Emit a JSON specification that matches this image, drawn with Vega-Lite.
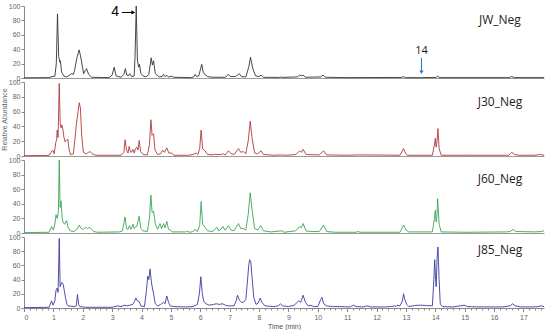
{
  "$schema": "https://vega.github.io/schema/vega-lite/v6.json",
  "padding": {"left": 0, "top": 2, "right": 4, "bottom": 0},
  "spacing": 4,
  "bounds": "flush",
  "config": {
    "view": {"stroke": null},
    "axis": {"labelFontSize": 7, "labelColor": "#666", "tickColor": "#888", "domainColor": "#888", "tickSize": 3, "grid": false, "labelFont": "Liberation Sans", "titleFont": "Liberation Sans", "labelPadding": 1},
    "text": {"font": "Open Sans"}
  },
  "datasets": {
    "JW": [
      {"t":0,"v":0.3},{"t":0.85,"v":0.5},{"t":0.95,"v":2},{"t":1.05,"v":2.5},{"t":1.1,"v":20},{"t":1.14,"v":89},{"t":1.18,"v":30},{"t":1.22,"v":22},{"t":1.24,"v":24},{"t":1.28,"v":8},{"t":1.35,"v":3},{"t":1.45,"v":1.5},{"t":1.55,"v":4},{"t":1.62,"v":6},{"t":1.68,"v":5},{"t":1.72,"v":10},{"t":1.8,"v":28},{"t":1.88,"v":39},{"t":1.95,"v":25},{"t":2.03,"v":6},{"t":2.08,"v":10},{"t":2.13,"v":13},{"t":2.2,"v":5},{"t":2.3,"v":1},{"t":2.9,"v":0.5},{"t":3.0,"v":4},{"t":3.07,"v":15},{"t":3.13,"v":3},{"t":3.3,"v":1},{"t":3.4,"v":5},{"t":3.45,"v":13},{"t":3.5,"v":4},{"t":3.55,"v":3},{"t":3.6,"v":6},{"t":3.66,"v":2},{"t":3.75,"v":3},{"t":3.78,"v":30},{"t":3.82,"v":100},{"t":3.86,"v":25},{"t":3.9,"v":15},{"t":3.93,"v":19},{"t":3.98,"v":6},{"t":4.05,"v":3},{"t":4.15,"v":1.5},{"t":4.25,"v":5},{"t":4.33,"v":28},{"t":4.37,"v":18},{"t":4.41,"v":24},{"t":4.47,"v":6},{"t":4.6,"v":1.5},{"t":4.7,"v":2},{"t":4.75,"v":5},{"t":4.8,"v":2},{"t":4.86,"v":3.5},{"t":4.92,"v":1.5},{"t":5.03,"v":2.5},{"t":5.1,"v":1},{"t":5.7,"v":0.5},{"t":5.79,"v":2},{"t":5.83,"v":5},{"t":5.87,"v":2},{"t":5.95,"v":3},{"t":6.05,"v":19},{"t":6.1,"v":8},{"t":6.15,"v":5},{"t":6.25,"v":2},{"t":6.4,"v":1},{"t":6.85,"v":1},{"t":6.96,"v":5},{"t":7.02,"v":2},{"t":7.2,"v":2},{"t":7.33,"v":6},{"t":7.4,"v":2},{"t":7.55,"v":1.5},{"t":7.65,"v":15},{"t":7.71,"v":29},{"t":7.78,"v":14},{"t":7.88,"v":3},{"t":8.0,"v":2},{"t":8.07,"v":4},{"t":8.15,"v":1},{"t":8.7,"v":0.8},{"t":8.75,"v":1.5},{"t":8.8,"v":0.8},{"t":9.3,"v":1.5},{"t":9.38,"v":4},{"t":9.44,"v":3},{"t":9.5,"v":4},{"t":9.58,"v":1},{"t":10.1,"v":1.5},{"t":10.18,"v":4},{"t":10.26,"v":1},{"t":11,"v":0.5},{"t":12.85,"v":0.8},{"t":12.92,"v":2},{"t":12.99,"v":0.5},{"t":13.5,"v":0.5},{"t":14.03,"v":0.8},{"t":14.08,"v":3},{"t":14.13,"v":0.5},{"t":16.5,"v":0.5},{"t":16.6,"v":2},{"t":16.7,"v":0.5},{"t":17.7,"v":0.5}
    ],
    "J30": [
      {"t":0,"v":0.5},{"t":0.85,"v":0.8},{"t":0.92,"v":5},{"t":0.98,"v":8},{"t":1.03,"v":3},{"t":1.08,"v":18},{"t":1.11,"v":22},{"t":1.13,"v":35},{"t":1.16,"v":25},{"t":1.2,"v":98},{"t":1.23,"v":45},{"t":1.26,"v":38},{"t":1.29,"v":42},{"t":1.32,"v":37},{"t":1.36,"v":25},{"t":1.4,"v":19},{"t":1.44,"v":21},{"t":1.49,"v":23},{"t":1.53,"v":10},{"t":1.58,"v":2},{"t":1.68,"v":3},{"t":1.74,"v":25},{"t":1.78,"v":42},{"t":1.84,"v":60},{"t":1.88,"v":72},{"t":1.92,"v":65},{"t":1.96,"v":30},{"t":2.02,"v":5},{"t":2.12,"v":3},{"t":2.2,"v":5},{"t":2.25,"v":6},{"t":2.32,"v":3},{"t":2.45,"v":1},{"t":3.3,"v":1},{"t":3.4,"v":5},{"t":3.44,"v":22},{"t":3.49,"v":8},{"t":3.54,"v":4},{"t":3.58,"v":13},{"t":3.63,"v":5},{"t":3.68,"v":6},{"t":3.71,"v":9},{"t":3.75,"v":4},{"t":3.8,"v":10},{"t":3.84,"v":12},{"t":3.88,"v":8},{"t":3.92,"v":21},{"t":3.97,"v":6},{"t":4.05,"v":2},{"t":4.2,"v":1.5},{"t":4.27,"v":15},{"t":4.32,"v":49},{"t":4.36,"v":28},{"t":4.41,"v":30},{"t":4.46,"v":8},{"t":4.55,"v":2},{"t":4.65,"v":3},{"t":4.72,"v":8},{"t":4.78,"v":5},{"t":4.86,"v":11},{"t":4.93,"v":4},{"t":5.03,"v":4},{"t":5.1,"v":1},{"t":5.6,"v":1},{"t":5.75,"v":2},{"t":5.86,"v":4},{"t":5.92,"v":2},{"t":5.98,"v":10},{"t":6.03,"v":35},{"t":6.08,"v":10},{"t":6.16,"v":7},{"t":6.25,"v":2},{"t":6.45,"v":1.5},{"t":6.5,"v":2.5},{"t":6.56,"v":2},{"t":6.7,"v":2},{"t":6.77,"v":3},{"t":6.85,"v":1.5},{"t":6.96,"v":7},{"t":7.05,"v":3},{"t":7.15,"v":2},{"t":7.3,"v":10},{"t":7.38,"v":5},{"t":7.47,"v":6},{"t":7.55,"v":3},{"t":7.63,"v":20},{"t":7.7,"v":47},{"t":7.76,"v":25},{"t":7.85,"v":4},{"t":7.95,"v":3},{"t":8.07,"v":7},{"t":8.15,"v":2},{"t":8.5,"v":1},{"t":8.73,"v":1.5},{"t":8.9,"v":1},{"t":9.25,"v":2},{"t":9.38,"v":7},{"t":9.44,"v":5},{"t":9.5,"v":9},{"t":9.6,"v":2},{"t":10.05,"v":1.5},{"t":10.2,"v":7},{"t":10.3,"v":1.5},{"t":11,"v":1},{"t":11.4,"v":1.5},{"t":12.8,"v":1},{"t":12.92,"v":10},{"t":12.98,"v":4},{"t":13.05,"v":1},{"t":13.9,"v":1},{"t":13.97,"v":15},{"t":14.0,"v":24},{"t":14.03,"v":12},{"t":14.06,"v":20},{"t":14.09,"v":37},{"t":14.13,"v":10},{"t":14.2,"v":1},{"t":15,"v":1},{"t":16.5,"v":1},{"t":16.6,"v":5},{"t":16.7,"v":2},{"t":16.85,"v":1},{"t":17.4,"v":1},{"t":17.55,"v":2},{"t":17.7,"v":1}
    ],
    "J60": [
      {"t":0,"v":0.5},{"t":0.85,"v":1},{"t":0.94,"v":9},{"t":1.0,"v":4},{"t":1.05,"v":12},{"t":1.09,"v":25},{"t":1.13,"v":20},{"t":1.17,"v":30},{"t":1.2,"v":100},{"t":1.23,"v":35},{"t":1.26,"v":44},{"t":1.3,"v":20},{"t":1.33,"v":15},{"t":1.38,"v":12},{"t":1.45,"v":17},{"t":1.5,"v":8},{"t":1.57,"v":3},{"t":1.7,"v":2},{"t":1.8,"v":5},{"t":1.88,"v":11},{"t":1.95,"v":6},{"t":2.02,"v":5},{"t":2.07,"v":7},{"t":2.11,"v":8},{"t":2.16,"v":6},{"t":2.23,"v":8},{"t":2.3,"v":5},{"t":2.38,"v":2},{"t":2.5,"v":1},{"t":3.25,"v":1.5},{"t":3.35,"v":3},{"t":3.44,"v":22},{"t":3.49,"v":6},{"t":3.54,"v":5},{"t":3.59,"v":10},{"t":3.64,"v":5},{"t":3.71,"v":12},{"t":3.75,"v":6},{"t":3.78,"v":8},{"t":3.84,"v":9},{"t":3.92,"v":23},{"t":3.98,"v":6},{"t":4.05,"v":3},{"t":4.2,"v":2},{"t":4.27,"v":20},{"t":4.32,"v":52},{"t":4.36,"v":28},{"t":4.41,"v":30},{"t":4.47,"v":13},{"t":4.55,"v":5},{"t":4.63,"v":13},{"t":4.68,"v":6},{"t":4.75,"v":13},{"t":4.8,"v":7},{"t":4.86,"v":16},{"t":4.92,"v":5},{"t":4.98,"v":4},{"t":5.05,"v":1.5},{"t":5.5,"v":1.5},{"t":5.54,"v":2.5},{"t":5.65,"v":1},{"t":5.75,"v":2},{"t":5.83,"v":5},{"t":5.9,"v":2},{"t":5.98,"v":10},{"t":6.03,"v":43},{"t":6.08,"v":12},{"t":6.16,"v":8},{"t":6.25,"v":3},{"t":6.4,"v":2},{"t":6.48,"v":4},{"t":6.56,"v":8},{"t":6.63,"v":3},{"t":6.7,"v":5},{"t":6.77,"v":9},{"t":6.84,"v":4},{"t":6.96,"v":10},{"t":7.05,"v":4},{"t":7.15,"v":3},{"t":7.3,"v":13},{"t":7.38,"v":6},{"t":7.47,"v":6},{"t":7.55,"v":4},{"t":7.63,"v":25},{"t":7.7,"v":55},{"t":7.77,"v":30},{"t":7.85,"v":6},{"t":7.95,"v":4},{"t":8.06,"v":10},{"t":8.15,"v":3},{"t":8.4,"v":1.5},{"t":8.78,"v":3},{"t":8.85,"v":1},{"t":9.25,"v":3},{"t":9.38,"v":9},{"t":9.44,"v":7},{"t":9.5,"v":13},{"t":9.6,"v":3},{"t":9.75,"v":2},{"t":10.05,"v":2},{"t":10.2,"v":11},{"t":10.3,"v":2},{"t":10.6,"v":1},{"t":11.3,"v":1},{"t":11.36,"v":2},{"t":11.45,"v":1},{"t":11.8,"v":1},{"t":12.8,"v":1},{"t":12.92,"v":11},{"t":13.0,"v":4},{"t":13.1,"v":1.5},{"t":13.9,"v":1.5},{"t":13.97,"v":20},{"t":14.0,"v":31},{"t":14.03,"v":15},{"t":14.06,"v":25},{"t":14.08,"v":47},{"t":14.13,"v":12},{"t":14.2,"v":1.5},{"t":15,"v":1},{"t":16.4,"v":1.5},{"t":16.55,"v":2},{"t":16.65,"v":5},{"t":16.75,"v":2},{"t":17.4,"v":1.5},{"t":17.6,"v":2},{"t":17.7,"v":3}
    ],
    "J85": [
      {"t":0,"v":0.5},{"t":0.85,"v":1},{"t":0.94,"v":10},{"t":0.99,"v":4},{"t":1.05,"v":10},{"t":1.09,"v":25},{"t":1.13,"v":28},{"t":1.16,"v":22},{"t":1.2,"v":98},{"t":1.23,"v":30},{"t":1.28,"v":36},{"t":1.33,"v":34},{"t":1.37,"v":25},{"t":1.41,"v":15},{"t":1.46,"v":5},{"t":1.5,"v":3},{"t":1.7,"v":2},{"t":1.78,"v":3},{"t":1.82,"v":19},{"t":1.86,"v":5},{"t":1.9,"v":2},{"t":2.1,"v":1},{"t":3.0,"v":1},{"t":3.2,"v":3},{"t":3.3,"v":2},{"t":3.43,"v":4},{"t":3.5,"v":3},{"t":3.6,"v":4},{"t":3.7,"v":5},{"t":3.76,"v":9},{"t":3.81,"v":14},{"t":3.86,"v":10},{"t":3.92,"v":9},{"t":3.98,"v":3},{"t":4.1,"v":2},{"t":4.17,"v":25},{"t":4.21,"v":45},{"t":4.25,"v":40},{"t":4.29,"v":55},{"t":4.34,"v":35},{"t":4.41,"v":20},{"t":4.47,"v":6},{"t":4.55,"v":3},{"t":4.65,"v":5},{"t":4.75,"v":8},{"t":4.8,"v":6},{"t":4.86,"v":17},{"t":4.92,"v":8},{"t":4.98,"v":3},{"t":5.1,"v":2},{"t":5.5,"v":1.5},{"t":5.75,"v":2},{"t":5.9,"v":5},{"t":5.97,"v":20},{"t":6.02,"v":44},{"t":6.07,"v":20},{"t":6.12,"v":9},{"t":6.2,"v":6},{"t":6.3,"v":4},{"t":6.45,"v":5},{"t":6.55,"v":6},{"t":6.65,"v":5},{"t":6.75,"v":6},{"t":6.85,"v":4},{"t":6.95,"v":3},{"t":7.05,"v":3},{"t":7.15,"v":3},{"t":7.22,"v":10},{"t":7.27,"v":18},{"t":7.33,"v":11},{"t":7.4,"v":8},{"t":7.47,"v":8},{"t":7.55,"v":12},{"t":7.6,"v":35},{"t":7.65,"v":60},{"t":7.68,"v":68},{"t":7.72,"v":65},{"t":7.76,"v":45},{"t":7.82,"v":15},{"t":7.9,"v":5},{"t":7.97,"v":7},{"t":8.04,"v":14},{"t":8.1,"v":8},{"t":8.2,"v":3},{"t":8.5,"v":2},{"t":8.65,"v":3},{"t":8.73,"v":6},{"t":8.8,"v":3},{"t":9.0,"v":2},{"t":9.2,"v":4},{"t":9.35,"v":10},{"t":9.42,"v":8},{"t":9.5,"v":18},{"t":9.58,"v":8},{"t":9.67,"v":3},{"t":9.77,"v":4},{"t":9.85,"v":2},{"t":10.0,"v":2},{"t":10.1,"v":12},{"t":10.14,"v":15},{"t":10.2,"v":6},{"t":10.3,"v":3},{"t":10.5,"v":2},{"t":10.75,"v":2},{"t":11.1,"v":1.5},{"t":11.22,"v":4},{"t":11.3,"v":2},{"t":11.55,"v":1.5},{"t":11.67,"v":3},{"t":11.8,"v":1.5},{"t":12.3,"v":1.5},{"t":12.5,"v":2},{"t":12.6,"v":3},{"t":12.66,"v":2},{"t":12.7,"v":4},{"t":12.8,"v":3},{"t":12.88,"v":10},{"t":12.92,"v":20},{"t":12.96,"v":12},{"t":13.03,"v":5},{"t":13.1,"v":2},{"t":13.3,"v":3.5},{"t":13.5,"v":4},{"t":13.7,"v":3.5},{"t":13.9,"v":3},{"t":13.95,"v":40},{"t":13.98,"v":68},{"t":14.01,"v":40},{"t":14.03,"v":30},{"t":14.06,"v":70},{"t":14.09,"v":86},{"t":14.13,"v":40},{"t":14.17,"v":5},{"t":14.25,"v":2},{"t":14.6,"v":1.5},{"t":14.85,"v":3},{"t":14.98,"v":4},{"t":15.1,"v":2},{"t":15.4,"v":1.5},{"t":16.3,"v":1.5},{"t":16.55,"v":3},{"t":16.63,"v":6},{"t":16.72,"v":3},{"t":16.9,"v":1.5},{"t":17.3,"v":1.5},{"t":17.5,"v":2},{"t":17.6,"v":3},{"t":17.7,"v":2}
    ]
  },
  "vconcat": [
    {
      "width": 520, "height": 72,
      "encoding": {
        "x": {"type": "quantitative", "scale": {"domain": [0, 17.7], "nice": false}, "axis": {"labels": false, "ticks": false, "title": null, "domainColor": "#999"}},
        "y": {"type": "quantitative", "scale": {"domain": [0, 100]}, "axis": {"values": [0,20,40,60,80,100], "title": null}}
      },
      "layer": [
        {
          "data": {"name": "JW"},
          "mark": {"type": "line", "color": "#333333", "strokeWidth": 0.9},
          "encoding": {"x": {"field": "t"}, "y": {"field": "v"}}
        },
        {
          "data": {"values": [{"t": 16.2, "v": 80, "s": "JW_Neg"}]},
          "mark": {"type": "text", "fontSize": 12, "align": "center", "fill": "#222"},
          "encoding": {"x": {"field": "t"}, "y": {"field": "v"}, "text": {"field": "s"}}
        },
        {
          "data": {"values": [{"t": 3.1, "v": 91, "s": "4"}]},
          "mark": {"type": "text", "fontSize": 14, "font": "Liberation Sans", "align": "center", "fill": "#000"},
          "encoding": {"x": {"field": "t"}, "y": {"field": "v"}, "text": {"field": "s"}}
        },
        {
          "data": {"values": [{"t": 3.33, "t2": 3.7, "v": 91}]},
          "mark": {"type": "rule", "color": "#000", "strokeWidth": 1},
          "encoding": {"x": {"field": "t"}, "x2": {"field": "t2"}, "y": {"field": "v"}}
        },
        {
          "data": {"values": [{"t": 3.72, "v": 91}]},
          "mark": {"type": "point", "shape": "triangle-right", "filled": true, "color": "#000", "size": 18, "opacity": 1},
          "encoding": {"x": {"field": "t"}, "y": {"field": "v"}}
        },
        {
          "data": {"values": [{"t": 13.53, "v": 37, "s": "14"}]},
          "mark": {"type": "text", "fontSize": 11, "align": "center", "fill": "#1a1a1a"},
          "encoding": {"x": {"field": "t"}, "y": {"field": "v"}, "text": {"field": "s"}}
        },
        {
          "data": {"values": [{"t": 13.53, "v": 28, "v2": 9}]},
          "mark": {"type": "rule", "color": "#2e75b6", "strokeWidth": 1},
          "encoding": {"x": {"field": "t"}, "y": {"field": "v"}, "y2": {"field": "v2"}}
        },
        {
          "data": {"values": [{"t": 13.53, "v": 8}]},
          "mark": {"type": "point", "shape": "triangle-down", "filled": true, "color": "#2e75b6", "size": 18, "opacity": 1},
          "encoding": {"x": {"field": "t"}, "y": {"field": "v"}}
        }
      ]
    },
    {
      "width": 520, "height": 74,
      "encoding": {
        "x": {"type": "quantitative", "scale": {"domain": [0, 17.7], "nice": false}, "axis": {"labels": false, "ticks": false, "title": null, "domainColor": "#999"}},
        "y": {"type": "quantitative", "scale": {"domain": [0, 100]}, "axis": {"values": [0,20,40,60,80,100], "title": "Relative Abundance", "titleFontSize": 7, "titleFontWeight": "normal", "titleColor": "#666", "titlePadding": 1}}
      },
      "layer": [
        {
          "data": {"name": "J30"},
          "mark": {"type": "line", "color": "#b03a3a", "strokeWidth": 0.9},
          "encoding": {"x": {"field": "t"}, "y": {"field": "v"}}
        },
        {
          "data": {"values": [{"t": 16.2, "v": 73, "s": "J30_Neg"}]},
          "mark": {"type": "text", "fontSize": 12, "align": "center", "fill": "#222"},
          "encoding": {"x": {"field": "t"}, "y": {"field": "v"}, "text": {"field": "s"}}
        }
      ]
    },
    {
      "width": 520, "height": 73,
      "encoding": {
        "x": {"type": "quantitative", "scale": {"domain": [0, 17.7], "nice": false}, "axis": {"labels": false, "ticks": false, "title": null, "domainColor": "#999"}},
        "y": {"type": "quantitative", "scale": {"domain": [0, 100]}, "axis": {"values": [0,20,40,60,80,100], "title": null}}
      },
      "layer": [
        {
          "data": {"name": "J60"},
          "mark": {"type": "line", "color": "#3aa655", "strokeWidth": 0.9},
          "encoding": {"x": {"field": "t"}, "y": {"field": "v"}}
        },
        {
          "data": {"values": [{"t": 16.2, "v": 74, "s": "J60_Neg"}]},
          "mark": {"type": "text", "fontSize": 12, "align": "center", "fill": "#222"},
          "encoding": {"x": {"field": "t"}, "y": {"field": "v"}, "text": {"field": "s"}}
        }
      ]
    },
    {
      "width": 520, "height": 71,
      "encoding": {
        "x": {"type": "quantitative", "scale": {"domain": [0, 17.7], "nice": false}, "axis": {
          "values": [0,0.2,0.4,0.6,0.8,1,1.2,1.4,1.6,1.8,2,2.2,2.4,2.6,2.8,3,3.2,3.4,3.6,3.8,4,4.2,4.4,4.6,4.8,5,5.2,5.4,5.6,5.8,6,6.2,6.4,6.6,6.8,7,7.2,7.4,7.6,7.8,8,8.2,8.4,8.6,8.8,9,9.2,9.4,9.6,9.8,10,10.2,10.4,10.6,10.8,11,11.2,11.4,11.6,11.8,12,12.2,12.4,12.6,12.8,13,13.2,13.4,13.6,13.8,14,14.2,14.4,14.6,14.8,15,15.2,15.4,15.6,15.8,16,16.2,16.4,16.6,16.8,17,17.2,17.4,17.6],
          "labelExpr": "abs(datum.value - round(datum.value)) < 0.01 ? '' + round(datum.value) : ''",
          "tickSize": {"condition": {"test": "abs(datum.value - round(datum.value)) < 0.01", "value": 3.5}, "value": 2},
          "labelOverlap": false,
          "title": "Time (min)", "titleFontSize": 7, "titleFontWeight": "normal", "titleColor": "#555", "titlePadding": 2, "labelPadding": 2}},
        "y": {"type": "quantitative", "scale": {"domain": [0, 100]}, "axis": {"values": [0,20,40,60,80,100], "title": null}}
      },
      "layer": [
        {
          "data": {"name": "J85"},
          "mark": {"type": "line", "color": "#3b3ba0", "strokeWidth": 0.9},
          "encoding": {"x": {"field": "t"}, "y": {"field": "v"}}
        },
        {
          "data": {"values": [{"t": 16.2, "v": 82, "s": "J85_Neg"}]},
          "mark": {"type": "text", "fontSize": 12, "align": "center", "fill": "#222"},
          "encoding": {"x": {"field": "t"}, "y": {"field": "v"}, "text": {"field": "s"}}
        }
      ]
    }
  ]
}
